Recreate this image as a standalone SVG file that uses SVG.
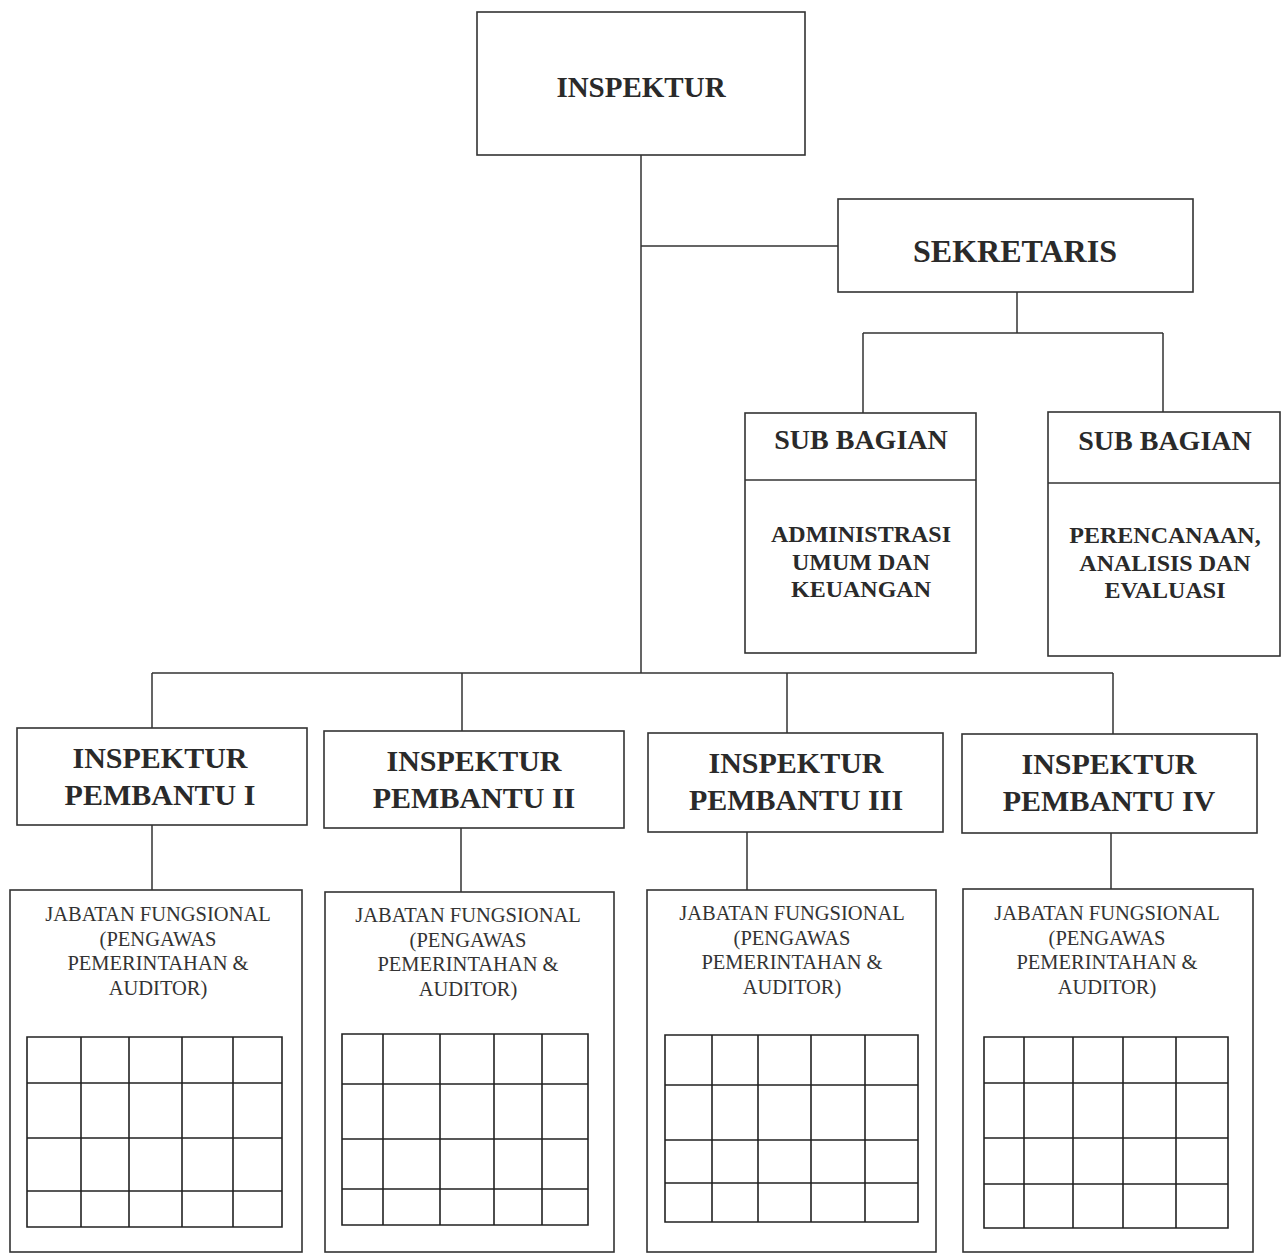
<svg xmlns="http://www.w3.org/2000/svg" width="1282" height="1258" viewBox="0 0 1282 1258">
<style>
.bx{fill:none;stroke:#333;stroke-width:1.6}
.ln{fill:none;stroke:#333;stroke-width:1.5}
.gr{fill:none;stroke:#222;stroke-width:1.6}
.tb{font-family:"Liberation Serif","Times New Roman",serif;font-weight:bold;fill:#2a2a2a;text-anchor:middle}
.tr{font-family:"Liberation Serif","Times New Roman",serif;fill:#333;text-anchor:middle;font-size:20.5px}
</style>
<rect width="1282" height="1258" fill="#fff"/>
<g id="connectors">
<path class="ln" d="M641 155V673M641 246H838M1017 292V333M863 333H1163M863 333V413M1163 333V412M152 673H1113M152 673V728M462 673V731M787 673V733M1113 673V734M152 825V890M461 828V892M747 832V890M1111 833V889"/>
</g>
<g id="inspektur">
<rect class="bx" x="477" y="12" width="328" height="143"/>
<text class="tb" x="641" y="97" font-size="29">INSPEKTUR</text>
</g>
<g id="sekretaris">
<rect class="bx" x="838" y="199" width="355" height="93"/>
<text class="tb" x="1015" y="262" font-size="32">SEKRETARIS</text>
</g>
<g id="subbag-umum">
<rect class="bx" x="745" y="413" width="231" height="240"/>
<line class="ln" x1="745" y1="480" x2="976" y2="480"/>
<text class="tb" x="861" y="449" font-size="28">SUB BAGIAN</text>
<text class="tb" font-size="24"><tspan x="861" y="542">ADMINISTRASI</tspan><tspan x="861" y="570">UMUM DAN</tspan><tspan x="861" y="597">KEUANGAN</tspan></text>
</g>
<g id="subbag-perencanaan">
<rect class="bx" x="1048" y="412" width="232" height="244"/>
<line class="ln" x1="1048" y1="483" x2="1280" y2="483"/>
<text class="tb" x="1165" y="450" font-size="28">SUB BAGIAN</text>
<text class="tb" font-size="24"><tspan x="1165" y="543">PERENCANAAN,</tspan><tspan x="1165" y="571">ANALISIS DAN</tspan><tspan x="1165" y="598">EVALUASI</tspan></text>
</g>
<g id="irban-1">
<rect class="bx" x="17" y="728" width="290" height="97"/>
<text class="tb" font-size="30"><tspan x="160" y="768">INSPEKTUR</tspan><tspan x="160" y="805">PEMBANTU I</tspan></text>
</g>
<g id="irban-2">
<rect class="bx" x="324" y="731" width="300" height="97"/>
<text class="tb" font-size="30"><tspan x="474" y="771">INSPEKTUR</tspan><tspan x="474" y="808">PEMBANTU II</tspan></text>
</g>
<g id="irban-3">
<rect class="bx" x="648" y="733" width="295" height="99"/>
<text class="tb" font-size="30"><tspan x="796" y="773">INSPEKTUR</tspan><tspan x="796" y="810">PEMBANTU III</tspan></text>
</g>
<g id="irban-4">
<rect class="bx" x="962" y="734" width="295" height="99"/>
<text class="tb" font-size="30"><tspan x="1109" y="774">INSPEKTUR</tspan><tspan x="1109" y="811">PEMBANTU IV</tspan></text>
</g>
<g id="jf-1">
<rect class="bx" x="10" y="890" width="292" height="362"/>
<text class="tr"><tspan x="158" y="921">JABATAN FUNGSIONAL</tspan><tspan x="158" y="946">(PENGAWAS</tspan><tspan x="158" y="970">PEMERINTAHAN &amp;</tspan><tspan x="158" y="995">AUDITOR)</tspan></text>
<path class="gr" d="M27 1037H282V1227H27ZM81 1037V1227M129 1037V1227M182 1037V1227M233 1037V1227M27 1083H282M27 1138H282M27 1191H282"/>
</g>
<g id="jf-2">
<rect class="bx" x="325" y="892" width="289" height="360"/>
<text class="tr"><tspan x="468" y="922">JABATAN FUNGSIONAL</tspan><tspan x="468" y="947">(PENGAWAS</tspan><tspan x="468" y="971">PEMERINTAHAN &amp;</tspan><tspan x="468" y="996">AUDITOR)</tspan></text>
<path class="gr" d="M342 1034H588V1225H342ZM383 1034V1225M440 1034V1225M494 1034V1225M542 1034V1225M342 1084H588M342 1139H588M342 1189H588"/>
</g>
<g id="jf-3">
<rect class="bx" x="647" y="890" width="289" height="362"/>
<text class="tr"><tspan x="792" y="920">JABATAN FUNGSIONAL</tspan><tspan x="792" y="945">(PENGAWAS</tspan><tspan x="792" y="969">PEMERINTAHAN &amp;</tspan><tspan x="792" y="994">AUDITOR)</tspan></text>
<path class="gr" d="M665 1035H918V1222H665ZM712 1035V1222M758 1035V1222M811 1035V1222M865 1035V1222M665 1085H918M665 1140H918M665 1183H918"/>
</g>
<g id="jf-4">
<rect class="bx" x="963" y="889" width="290" height="363"/>
<text class="tr"><tspan x="1107" y="920">JABATAN FUNGSIONAL</tspan><tspan x="1107" y="945">(PENGAWAS</tspan><tspan x="1107" y="969">PEMERINTAHAN &amp;</tspan><tspan x="1107" y="994">AUDITOR)</tspan></text>
<path class="gr" d="M984 1037H1228V1228H984ZM1024 1037V1228M1073 1037V1228M1123 1037V1228M1176 1037V1228M984 1083H1228M984 1138H1228M984 1184H1228"/>
</g>
</svg>
